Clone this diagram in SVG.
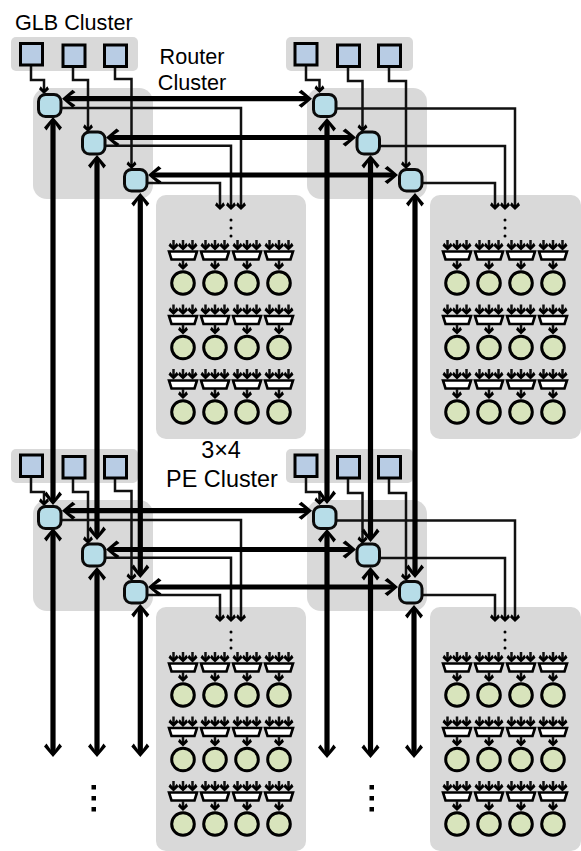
<svg xmlns="http://www.w3.org/2000/svg" width="581" height="851" viewBox="0 0 581 851">
<style>
.bg{fill:#d9d9d9}
.glb{fill:#b8cce4;stroke:#000;stroke-width:3}
.rt{fill:#b7dde8;stroke:#0a0a0a;stroke-width:3}
.pe{fill:#d8e4bc;stroke:#000;stroke-width:3}
.mux{fill:#fff;stroke:#000;stroke-width:2.6}
.thick{fill:none;stroke:#000;stroke-width:5.2;marker-start:url(#hb);marker-end:url(#hb)}
.thin{fill:none;stroke:#111;stroke-width:2.5;marker-end:url(#ht)}
.dot{fill:#000}
text{font-family:"Liberation Sans",Arial,sans-serif;fill:#000}
.t1{font-size:21.6px}
.t2{font-size:23.4px}
</style>
<defs>
<marker id="hb" markerUnits="userSpaceOnUse" markerWidth="28" markerHeight="28" refX="14" refY="14" viewBox="0 0 28 28" orient="auto-start-reverse" overflow="visible"><path transform="translate(14 14)" d="M4 0L-6.500-9-9.500-6.500-3-2V2L-9.500 6.500-6.500 9Z"/></marker>
<marker id="ht" markerUnits="userSpaceOnUse" markerWidth="14" markerHeight="14" refX="7" refY="7" viewBox="0 0 14 14" orient="auto" overflow="visible"><path transform="translate(7 7)" d="M4 0L-0.800-5-3.800-3.300-1-1V1L-3.800 3.300-0.800 5Z"/></marker>
<g id="cell">
<path class="thin" d="M-9.500-43V-36.500"/><path class="thin" d="M0-43V-36.500"/><path class="thin" d="M9.500-43V-36.500"/>
<polygon class="mux" points="-14,-31.5 14,-31.5 11.5,-23.5 -11.5,-23.5"/>
<path class="thin" d="M0-23V-17"/>
<circle class="pe" r="11.300"/>
</g>
<g id="pe-array">
<use href="#cell" x="183" y="283"/><use href="#cell" x="215" y="283"/><use href="#cell" x="247" y="283"/><use href="#cell" x="279" y="283"/>
<use href="#cell" x="183" y="347.500"/><use href="#cell" x="215" y="347.500"/><use href="#cell" x="247" y="347.500"/><use href="#cell" x="279" y="347.500"/>
<use href="#cell" x="183" y="412"/><use href="#cell" x="215" y="412"/><use href="#cell" x="247" y="412"/><use href="#cell" x="279" y="412"/>
<circle class="dot" cx="231" cy="220" r="1.500"/><circle class="dot" cx="231" cy="228" r="1.500"/><circle class="dot" cx="231" cy="236" r="1.500"/>
</g>
</defs>
<rect width="581" height="851" fill="#fff"/>
<g id="backgrounds">
<rect class="bg" x="11" y="37" width="127" height="34" rx="5"/>
<rect class="bg" x="286" y="37" width="127" height="34" rx="5"/>
<rect class="bg" x="11" y="449" width="127" height="34" rx="5"/>
<rect class="bg" x="286" y="449" width="127" height="34" rx="5"/>
<rect class="bg" x="33" y="88" width="120" height="111" rx="14"/>
<rect class="bg" x="307" y="88" width="120" height="111" rx="14"/>
<rect class="bg" x="33" y="500" width="120" height="111" rx="14"/>
<rect class="bg" x="307" y="500" width="120" height="111" rx="14"/>
<rect class="bg" x="156" y="195" width="150" height="244" rx="10"/>
<rect class="bg" x="430" y="195" width="151" height="244" rx="10"/>
<rect class="bg" x="156" y="607" width="150" height="244" rx="10"/>
<rect class="bg" x="430" y="607" width="151" height="244" rx="10"/>
</g>
<g id="connectors">
<path class="thin" d="M31 65V80H44V90"/><path class="thin" d="M73 67V80H88V128"/><path class="thin" d="M115 67V79H131.500V165"/>
<path class="thin" d="M306 65V80H319.500V89"/><path class="thin" d="M348 67V81H362.500V128"/><path class="thin" d="M389 67V81H406V165"/>
<path class="thin" d="M31 477V492H44V502"/><path class="thin" d="M73 479V492H88V540"/><path class="thin" d="M115 479V491H131.500V577"/>
<path class="thin" d="M306 477V492H319.500V501"/><path class="thin" d="M348 479V493H362.500V540"/><path class="thin" d="M389 479V493H406V577"/>
<path class="thin" d="M60 108H241V206"/><path class="thin" d="M104 145.700H231V206"/><path class="thin" d="M146 183H220V206"/>
<path class="thin" d="M335 108.500H515V206"/><path class="thin" d="M378 146H505V206"/><path class="thin" d="M421 183H495V206"/>
<path class="thin" d="M60 520H241V618"/><path class="thin" d="M104 557.700H231V618"/><path class="thin" d="M146 595H220V618"/>
<path class="thin" d="M335 520.500H515V618"/><path class="thin" d="M378 558H505V618"/><path class="thin" d="M421 595H495V618"/>
<path class="thick" d="M66 98.700H308"/><path class="thick" d="M110 137.500H352"/><path class="thick" d="M152 175H394"/>
<path class="thick" d="M66 510.700H308"/><path class="thick" d="M110 549.500H352"/><path class="thick" d="M152 587H394"/>
<path class="thick" d="M53 121V501"/><path class="thick" d="M97 159V536"/><path class="thick" d="M140.300 197V574"/>
<path class="thick" d="M327 122V500"/><path class="thick" d="M370.500 159V538"/><path class="thick" d="M415 197V574"/>
<path class="thick" d="M53 532V753"/><path class="thick" d="M97 571V753"/><path class="thick" d="M140.300 608V753"/>
<path class="thick" d="M327 533V754"/><path class="thick" d="M370.500 571V754"/><path class="thick" d="M414 609V754"/>
</g>
<g id="glb-1"><rect class="glb" x="20.500" y="43.500" width="22" height="21.500"/><rect class="glb" x="63" y="45" width="22" height="21.500"/><rect class="glb" x="104.500" y="45" width="22" height="21.500"/></g>
<g id="glb-2"><rect class="glb" x="295" y="43.500" width="22" height="21.500"/><rect class="glb" x="337.500" y="45" width="22" height="21.500"/><rect class="glb" x="378.500" y="45" width="22" height="21.500"/></g>
<g id="glb-3"><rect class="glb" x="20.500" y="455" width="22" height="21.500"/><rect class="glb" x="63" y="456.500" width="22" height="21.500"/><rect class="glb" x="104.500" y="456.500" width="22" height="21.500"/></g>
<g id="glb-4"><rect class="glb" x="295" y="455" width="22" height="21.500"/><rect class="glb" x="337.500" y="456.500" width="22" height="21.500"/><rect class="glb" x="378.500" y="456.500" width="22" height="21.500"/></g>
<g id="routers-1"><rect class="rt" x="38.500" y="94.500" width="22.500" height="22" rx="7"/><rect class="rt" x="82.500" y="132" width="22.500" height="22" rx="7"/><rect class="rt" x="124.500" y="169.500" width="22.500" height="21.500" rx="7"/></g>
<g id="routers-2"><rect class="rt" x="313.500" y="94.500" width="22.500" height="22" rx="7"/><rect class="rt" x="357" y="132" width="22.500" height="22" rx="7"/><rect class="rt" x="399.500" y="169.500" width="22.500" height="21.500" rx="7"/></g>
<g id="routers-3"><rect class="rt" x="38.500" y="506.500" width="22.500" height="22" rx="7"/><rect class="rt" x="82.500" y="544" width="22.500" height="22" rx="7"/><rect class="rt" x="124.500" y="581.500" width="22.500" height="21.500" rx="7"/></g>
<g id="routers-4"><rect class="rt" x="313.500" y="506.500" width="22.500" height="22" rx="7"/><rect class="rt" x="357" y="544" width="22.500" height="22" rx="7"/><rect class="rt" x="399.500" y="581.500" width="22.500" height="21.500" rx="7"/></g>
<g id="pe-cluster-1"><use href="#pe-array"/></g>
<g id="pe-cluster-2"><use href="#pe-array" x="274"/></g>
<g id="pe-cluster-3"><use href="#pe-array" y="412"/></g>
<g id="pe-cluster-4"><use href="#pe-array" x="274" y="412"/></g>
<g id="ellipsis">
<rect class="dot" x="91.500" y="785" width="4.500" height="4.500"/><rect class="dot" x="91.500" y="796" width="4.500" height="4.500"/><rect class="dot" x="91.500" y="807" width="4.500" height="4.500"/>
<rect class="dot" x="369.500" y="785" width="4.500" height="4.500"/><rect class="dot" x="369.500" y="796" width="4.500" height="4.500"/><rect class="dot" x="369.500" y="807" width="4.500" height="4.500"/>
</g>
<g id="labels">
<text class="t1" x="15" y="30">GLB Cluster</text>
<text class="t1" x="192" y="64" text-anchor="middle">Router</text>
<text class="t1" x="192" y="90" text-anchor="middle">Cluster</text>
<text class="t2" x="221" y="458" text-anchor="middle">3×4</text>
<text class="t2" x="222" y="487" text-anchor="middle">PE Cluster</text>
</g>
</svg>
